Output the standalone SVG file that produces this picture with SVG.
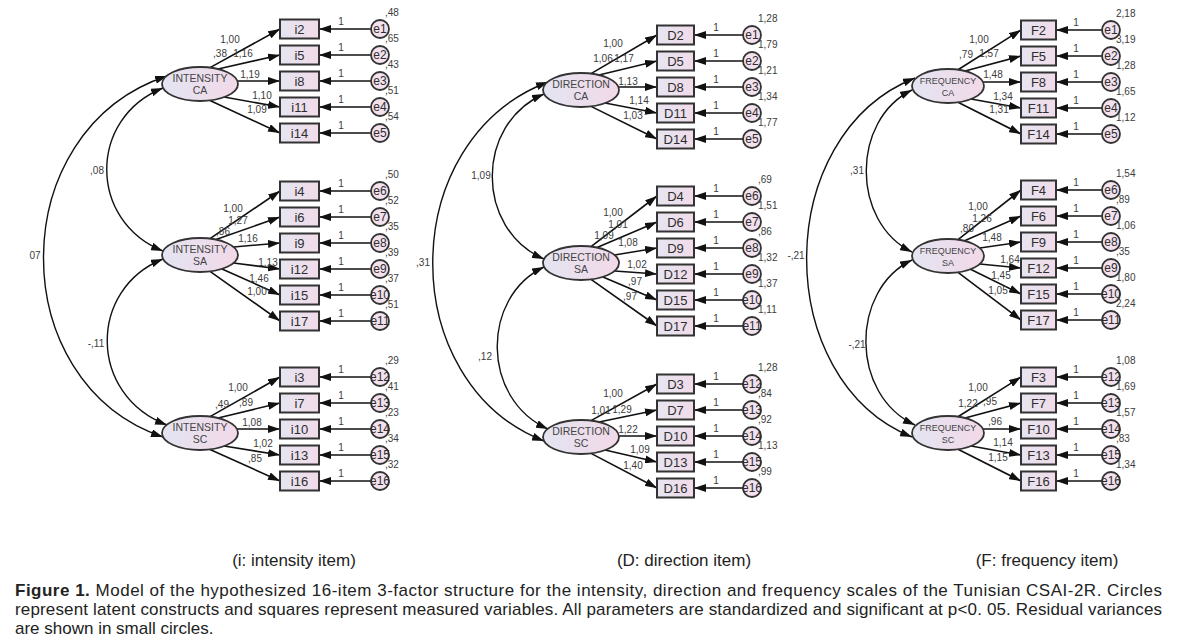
<svg xmlns="http://www.w3.org/2000/svg" width="1178" height="643" viewBox="0 0 1178 643">
<defs>
<linearGradient id="gBox" x1="0" y1="0" x2="1" y2="0"><stop offset="0" stop-color="#e6e5f1"/><stop offset="1" stop-color="#f1dbe9"/></linearGradient>
<linearGradient id="gLat" x1="0" y1="0" x2="1" y2="0"><stop offset="0" stop-color="#e4e4f1"/><stop offset="1" stop-color="#f2d9e8"/></linearGradient>
<marker id="ah" viewBox="0 0 12 8" refX="12" refY="4" markerWidth="12" markerHeight="8" markerUnits="userSpaceOnUse" orient="auto-start-reverse"><path d="M0,0 L12,4 L0,8 z" fill="#111"/></marker>
<style>
.box{fill:url(#gBox);stroke:#333;stroke-width:2}
.lat{fill:url(#gLat);stroke:#333;stroke-width:1.8}
.err{fill:#f3e2ee;stroke:#333;stroke-width:1.8}
.ln{stroke:#111;stroke-width:1.6;fill:none;marker-end:url(#ah)}
.cov{stroke:#111;stroke-width:1.4;fill:none;marker-start:url(#ah);marker-end:url(#ah)}
text{font-family:"Liberation Sans",Arial,sans-serif;fill:#2e2e2e}
.nm{font-size:13px;text-anchor:middle}
.en{font-size:12px;text-anchor:middle}
.lt{font-size:10.5px;text-anchor:middle;fill:#444}
.ltf{font-size:9px;text-anchor:middle;fill:#444}
.lb{font-size:10px;text-anchor:middle;fill:#3c3c3c}
.vr{font-size:10px;fill:#3c3c3c}
.cap{font-size:17px;fill:#222}
.capc{font-size:17px;fill:#222;text-anchor:middle}
</style>
</defs>
<rect width="1178" height="643" fill="#fff"/>

<g id="connectors">
<!-- Panel 1 covariances -->
<path class="cov" d="M167,76 C3,130 3,383 163,437"/>
<path class="cov" d="M163,88 C88,118 88,221 163,251"/>
<path class="cov" d="M163,259 C88,289 88,395 167,425"/>
<text class="lb" x="35" y="259">07</text>
<text class="lb" x="97" y="174">,08</text>
<text class="lb" x="96" y="347">-,11</text>
<!-- Panel 1 loadings -->
<path class="ln" d="M210,67.6 L280,29"/>
<path class="ln" d="M218,69 L280,55"/>
<path class="ln" d="M237.4,81 L280,81"/>
<path class="ln" d="M224,97 L280,107"/>
<path class="ln" d="M210,100.4 L280,133"/>
<path class="ln" d="M210,238.6 L280,191"/>
<path class="ln" d="M216,239.6 L280,217"/>
<path class="ln" d="M233.5,247 L280,243"/>
<path class="ln" d="M233.5,263 L280,269"/>
<path class="ln" d="M222,269 L280,295"/>
<path class="ln" d="M210,271.4 L280,321"/>
<path class="ln" d="M210,416.6 L280,377"/>
<path class="ln" d="M218,418 L280,403"/>
<path class="ln" d="M236.9,429 L280,429"/>
<path class="ln" d="M224,446 L280,455"/>
<path class="ln" d="M210,449.4 L280,481"/>
<text class="lb" x="230" y="42.5">1,00</text>
<text class="lb" x="220" y="56.5">,38</text>
<text class="lb" x="243" y="56.5">1,16</text>
<text class="lb" x="250" y="77.5">1,19</text>
<text class="lb" x="262" y="98.5">1,10</text>
<text class="lb" x="257" y="112.5">1,09</text>
<text class="lb" x="233" y="211.5">1,00</text>
<text class="lb" x="238" y="223.5">1,27</text>
<text class="lb" x="223" y="234.5">,86</text>
<text class="lb" x="248" y="241.5">1,16</text>
<text class="lb" x="268" y="265.5">1,13</text>
<text class="lb" x="259" y="281.5">1,46</text>
<text class="lb" x="257" y="294.5">1,00</text>
<text class="lb" x="238" y="390.5">1,00</text>
<text class="lb" x="222" y="407.5">,49</text>
<text class="lb" x="246" y="405.5">,89</text>
<text class="lb" x="252" y="425.5">1,08</text>
<text class="lb" x="263" y="446.5">1,02</text>
<text class="lb" x="255" y="461.5">,85</text>
<!-- Panel 1 error arrows -->
<path class="ln" d="M371,29 L319,29"/><path class="ln" d="M371,55 L319,55"/><path class="ln" d="M371,81 L319,81"/><path class="ln" d="M371,107 L319,107"/><path class="ln" d="M371,133 L319,133"/>
<path class="ln" d="M371,191 L319,191"/><path class="ln" d="M371,217 L319,217"/><path class="ln" d="M371,243 L319,243"/><path class="ln" d="M371,269 L319,269"/><path class="ln" d="M371,295 L319,295"/><path class="ln" d="M371,321 L319,321"/>
<path class="ln" d="M371,377 L319,377"/><path class="ln" d="M371,403 L319,403"/><path class="ln" d="M371,429 L319,429"/><path class="ln" d="M371,455 L319,455"/><path class="ln" d="M371,481 L319,481"/>
<text class="lb" x="341" y="25">1</text><text class="lb" x="341" y="51">1</text><text class="lb" x="341" y="77">1</text><text class="lb" x="341" y="103">1</text><text class="lb" x="341" y="129">1</text>
<text class="lb" x="341" y="187">1</text><text class="lb" x="341" y="213">1</text><text class="lb" x="341" y="239">1</text><text class="lb" x="341" y="265">1</text><text class="lb" x="341" y="291">1</text><text class="lb" x="341" y="317">1</text>
<text class="lb" x="341" y="373">1</text><text class="lb" x="341" y="399">1</text><text class="lb" x="341" y="425">1</text><text class="lb" x="341" y="451">1</text><text class="lb" x="341" y="477">1</text>

<!-- Panel 2 covariances -->
<path class="cov" d="M548,82 C395,140 395,383 544,441"/>
<path class="cov" d="M544,94 C475,124 475,229 544,259"/>
<path class="cov" d="M544,267 C481,297 481,399 548,429"/>
<text class="lb" x="423" y="265.5">,31</text>
<text class="lb" x="481" y="178.5">1,09</text>
<text class="lb" x="485" y="359.5">,12</text>
<!-- Panel 2 loadings -->
<path class="ln" d="M591,73.6 L657,35"/>
<path class="ln" d="M599,75 L657,61"/>
<path class="ln" d="M618.4,87 L657,87"/>
<path class="ln" d="M605,103 L657,113"/>
<path class="ln" d="M591,106.4 L657,139"/>
<path class="ln" d="M591,246.6 L657,196"/>
<path class="ln" d="M597,247.6 L657,222"/>
<path class="ln" d="M614.5,255 L657,248"/>
<path class="ln" d="M614.5,271 L657,274"/>
<path class="ln" d="M603,277 L657,300"/>
<path class="ln" d="M591,279.4 L657,326"/>
<path class="ln" d="M591,420.6 L657,384"/>
<path class="ln" d="M599,422 L657,410"/>
<path class="ln" d="M618.6,436 L657,436"/>
<path class="ln" d="M605,450 L657,462"/>
<path class="ln" d="M591,453.4 L657,488"/>
<text class="lb" x="613" y="46.5">1,00</text>
<text class="lb" x="603" y="61.5">1,06</text>
<text class="lb" x="624" y="61.5">1,17</text>
<text class="lb" x="628" y="84.5">1,13</text>
<text class="lb" x="639" y="103.5">1,14</text>
<text class="lb" x="633" y="118.5">1,03</text>
<text class="lb" x="613" y="215.5">1,00</text>
<text class="lb" x="618" y="227.5">1,01</text>
<text class="lb" x="604" y="238.5">1,09</text>
<text class="lb" x="628" y="245.5">1,08</text>
<text class="lb" x="637" y="267.5">1,02</text>
<text class="lb" x="635" y="284.5">,97</text>
<text class="lb" x="630" y="299.5">,97</text>
<text class="lb" x="613" y="396.5">1,00</text>
<text class="lb" x="601" y="413.5">1,01</text>
<text class="lb" x="622" y="412.5">1,29</text>
<text class="lb" x="628" y="432.5">1,22</text>
<text class="lb" x="640" y="452.5">1,09</text>
<text class="lb" x="633" y="468.5">1,40</text>
<!-- Panel 2 error arrows -->
<path class="ln" d="M743,35 L694,35"/><path class="ln" d="M743,61 L694,61"/><path class="ln" d="M743,87 L694,87"/><path class="ln" d="M743,113 L694,113"/><path class="ln" d="M743,139 L694,139"/>
<path class="ln" d="M743,196 L694,196"/><path class="ln" d="M743,222 L694,222"/><path class="ln" d="M743,248 L694,248"/><path class="ln" d="M743,274 L694,274"/><path class="ln" d="M743,300 L694,300"/><path class="ln" d="M743,326 L694,326"/>
<path class="ln" d="M743,384 L694,384"/><path class="ln" d="M743,410 L694,410"/><path class="ln" d="M743,436 L694,436"/><path class="ln" d="M743,462 L694,462"/><path class="ln" d="M743,488 L694,488"/>
<text class="lb" x="716" y="31">1</text><text class="lb" x="716" y="57">1</text><text class="lb" x="716" y="83">1</text><text class="lb" x="716" y="109">1</text><text class="lb" x="716" y="135">1</text>
<text class="lb" x="716" y="192">1</text><text class="lb" x="716" y="218">1</text><text class="lb" x="716" y="244">1</text><text class="lb" x="716" y="270">1</text><text class="lb" x="716" y="296">1</text><text class="lb" x="716" y="322">1</text>
<text class="lb" x="716" y="380">1</text><text class="lb" x="716" y="406">1</text><text class="lb" x="716" y="432">1</text><text class="lb" x="716" y="458">1</text><text class="lb" x="716" y="484">1</text>

<!-- Panel 3 covariances -->
<path class="cov" d="M915,78 C771,135 771,380 912,437"/>
<path class="cov" d="M912,90 C851,120 851,222 912,252"/>
<path class="cov" d="M912,260 C850,290 850,395 915,425"/>
<text class="lb" x="796" y="258.5">-,21</text>
<text class="lb" x="857" y="173.5">,31</text>
<text class="lb" x="857" y="347.5">-,21</text>
<!-- Panel 3 loadings -->
<path class="ln" d="M958,69.7 L1021,30"/>
<path class="ln" d="M965,71 L1021,56"/>
<path class="ln" d="M983,82 L1021,82"/>
<path class="ln" d="M971,99 L1021,108"/>
<path class="ln" d="M958,102.3 L1021,134"/>
<path class="ln" d="M958,239.7 L1021,190"/>
<path class="ln" d="M964,241 L1021,216"/>
<path class="ln" d="M979.8,248 L1021,242"/>
<path class="ln" d="M979.8,264 L1021,268"/>
<path class="ln" d="M970,269 L1021,294"/>
<path class="ln" d="M958,272.3 L1021,320"/>
<path class="ln" d="M958,416.7 L1021,377"/>
<path class="ln" d="M965,418 L1021,403"/>
<path class="ln" d="M983,429 L1021,429"/>
<path class="ln" d="M971,446 L1021,455"/>
<path class="ln" d="M958,449.3 L1021,481"/>
<text class="lb" x="979" y="42.5">1,00</text>
<text class="lb" x="966" y="57.5">,79</text>
<text class="lb" x="989" y="56.5">1,57</text>
<text class="lb" x="993" y="77.5">1,48</text>
<text class="lb" x="1003" y="99.5">1,34</text>
<text class="lb" x="999" y="112.5">1,31</text>
<text class="lb" x="978" y="209.5">1,00</text>
<text class="lb" x="982" y="221.5">1,26</text>
<text class="lb" x="967" y="232">,80</text>
<text class="lb" x="992" y="240.5">1,48</text>
<text class="lb" x="1010" y="262.5">1,64</text>
<text class="lb" x="1001" y="278.5">1,45</text>
<text class="lb" x="998" y="293.5">1,05</text>
<text class="lb" x="978" y="390.5">1,00</text>
<text class="lb" x="968" y="406.5">1,22</text>
<text class="lb" x="990" y="404.5">,95</text>
<text class="lb" x="995" y="424.5">,96</text>
<text class="lb" x="1003" y="445.5">1,14</text>
<text class="lb" x="998" y="460.5">1,15</text>
<!-- Panel 3 error arrows -->
<path class="ln" d="M1102,30 L1056,30"/><path class="ln" d="M1102,56 L1056,56"/><path class="ln" d="M1102,82 L1056,82"/><path class="ln" d="M1102,108 L1056,108"/><path class="ln" d="M1102,134 L1056,134"/>
<path class="ln" d="M1102,190 L1056,190"/><path class="ln" d="M1102,216 L1056,216"/><path class="ln" d="M1102,242 L1056,242"/><path class="ln" d="M1102,268 L1056,268"/><path class="ln" d="M1102,294 L1056,294"/><path class="ln" d="M1102,320 L1056,320"/>
<path class="ln" d="M1102,377 L1056,377"/><path class="ln" d="M1102,403 L1056,403"/><path class="ln" d="M1102,429 L1056,429"/><path class="ln" d="M1102,455 L1056,455"/><path class="ln" d="M1102,481 L1056,481"/>
<text class="lb" x="1076" y="26">1</text><text class="lb" x="1076" y="52">1</text><text class="lb" x="1076" y="78">1</text><text class="lb" x="1076" y="104">1</text><text class="lb" x="1076" y="130">1</text>
<text class="lb" x="1076" y="186">1</text><text class="lb" x="1076" y="212">1</text><text class="lb" x="1076" y="238">1</text><text class="lb" x="1076" y="264">1</text><text class="lb" x="1076" y="290">1</text><text class="lb" x="1076" y="316">1</text>
<text class="lb" x="1076" y="373">1</text><text class="lb" x="1076" y="399">1</text><text class="lb" x="1076" y="425">1</text><text class="lb" x="1076" y="451">1</text><text class="lb" x="1076" y="477">1</text>
</g>

<!-- ===== Panel 1 nodes ===== -->
<g id="int-ca"><ellipse class="lat" cx="200" cy="84" rx="38" ry="17"/><text class="lt" x="200" y="82">INTENSITY</text><text class="lt" x="200" y="94">CA</text></g>
<g id="int-sa"><ellipse class="lat" cx="200" cy="255" rx="38" ry="17"/><text class="lt" x="200" y="253">INTENSITY</text><text class="lt" x="200" y="265">SA</text></g>
<g id="int-sc"><ellipse class="lat" cx="200" cy="433" rx="38" ry="17"/><text class="lt" x="200" y="431">INTENSITY</text><text class="lt" x="200" y="443">SC</text></g>

<g id="i2"><rect class="box" x="280" y="19.5" width="39" height="19"/><text class="nm" x="299.5" y="33.5">i2</text></g>
<g id="i5"><rect class="box" x="280" y="45.5" width="39" height="19"/><text class="nm" x="299.5" y="59.5">i5</text></g>
<g id="i8"><rect class="box" x="280" y="71.5" width="39" height="19"/><text class="nm" x="299.5" y="85.5">i8</text></g>
<g id="i11"><rect class="box" x="280" y="97.5" width="39" height="19"/><text class="nm" x="299.5" y="111.5">i11</text></g>
<g id="i14"><rect class="box" x="280" y="123.5" width="39" height="19"/><text class="nm" x="299.5" y="137.5">i14</text></g>
<g id="i4"><rect class="box" x="280" y="181.5" width="39" height="19"/><text class="nm" x="299.5" y="195.5">i4</text></g>
<g id="i6"><rect class="box" x="280" y="207.5" width="39" height="19"/><text class="nm" x="299.5" y="221.5">i6</text></g>
<g id="i9"><rect class="box" x="280" y="233.5" width="39" height="19"/><text class="nm" x="299.5" y="247.5">i9</text></g>
<g id="i12"><rect class="box" x="280" y="259.5" width="39" height="19"/><text class="nm" x="299.5" y="273.5">i12</text></g>
<g id="i15"><rect class="box" x="280" y="285.5" width="39" height="19"/><text class="nm" x="299.5" y="299.5">i15</text></g>
<g id="i17"><rect class="box" x="280" y="311.5" width="39" height="19"/><text class="nm" x="299.5" y="325.5">i17</text></g>
<g id="i3"><rect class="box" x="280" y="367.5" width="39" height="19"/><text class="nm" x="299.5" y="381.5">i3</text></g>
<g id="i7"><rect class="box" x="280" y="393.5" width="39" height="19"/><text class="nm" x="299.5" y="407.5">i7</text></g>
<g id="i10"><rect class="box" x="280" y="419.5" width="39" height="19"/><text class="nm" x="299.5" y="433.5">i10</text></g>
<g id="i13"><rect class="box" x="280" y="445.5" width="39" height="19"/><text class="nm" x="299.5" y="459.5">i13</text></g>
<g id="i16"><rect class="box" x="280" y="471.5" width="39" height="19"/><text class="nm" x="299.5" y="485.5">i16</text></g>

<g id="p1-e1"><circle class="err" cx="380" cy="29" r="9"/><text class="en" x="380" y="33">e1</text><text class="vr" x="385" y="16">,48</text></g>
<g id="p1-e2"><circle class="err" cx="380" cy="55" r="9"/><text class="en" x="380" y="59">e2</text><text class="vr" x="385" y="42">,65</text></g>
<g id="p1-e3"><circle class="err" cx="380" cy="81" r="9"/><text class="en" x="380" y="85">e3</text><text class="vr" x="385" y="68">,43</text></g>
<g id="p1-e4"><circle class="err" cx="380" cy="107" r="9"/><text class="en" x="380" y="111">e4</text><text class="vr" x="385" y="94">,51</text></g>
<g id="p1-e5"><circle class="err" cx="380" cy="133" r="9"/><text class="en" x="380" y="137">e5</text><text class="vr" x="385" y="120">,54</text></g>
<g id="p1-e6"><circle class="err" cx="380" cy="191" r="9"/><text class="en" x="380" y="195">e6</text><text class="vr" x="385" y="178">,50</text></g>
<g id="p1-e7"><circle class="err" cx="380" cy="217" r="9"/><text class="en" x="380" y="221">e7</text><text class="vr" x="385" y="204">,52</text></g>
<g id="p1-e8"><circle class="err" cx="380" cy="243" r="9"/><text class="en" x="380" y="247">e8</text><text class="vr" x="385" y="230">,35</text></g>
<g id="p1-e9"><circle class="err" cx="380" cy="269" r="9"/><text class="en" x="380" y="273">e9</text><text class="vr" x="385" y="256">,39</text></g>
<g id="p1-e10"><circle class="err" cx="380" cy="295" r="9"/><text class="en" x="380" y="299">e10</text><text class="vr" x="385" y="282">,37</text></g>
<g id="p1-e11"><circle class="err" cx="380" cy="321" r="9"/><text class="en" x="380" y="325">e11</text><text class="vr" x="385" y="308">,51</text></g>
<g id="p1-e12"><circle class="err" cx="380" cy="377" r="9"/><text class="en" x="380" y="381">e12</text><text class="vr" x="385" y="364">,29</text></g>
<g id="p1-e13"><circle class="err" cx="380" cy="403" r="9"/><text class="en" x="380" y="407">e13</text><text class="vr" x="385" y="390">,41</text></g>
<g id="p1-e14"><circle class="err" cx="380" cy="429" r="9"/><text class="en" x="380" y="433">e14</text><text class="vr" x="385" y="416">,23</text></g>
<g id="p1-e15"><circle class="err" cx="380" cy="455" r="9"/><text class="en" x="380" y="459">e15</text><text class="vr" x="385" y="442">,34</text></g>
<g id="p1-e16"><circle class="err" cx="380" cy="481" r="9"/><text class="en" x="380" y="485">e16</text><text class="vr" x="385" y="468">,32</text></g>

<!-- ===== Panel 2 nodes ===== -->
<g id="dir-ca"><ellipse class="lat" cx="581" cy="90" rx="38" ry="17"/><text class="lt" x="581" y="88">DIRECTION</text><text class="lt" x="581" y="100">CA</text></g>
<g id="dir-sa"><ellipse class="lat" cx="581" cy="263" rx="38" ry="17"/><text class="lt" x="581" y="261">DIRECTION</text><text class="lt" x="581" y="273">SA</text></g>
<g id="dir-sc"><ellipse class="lat" cx="581" cy="437" rx="38" ry="17"/><text class="lt" x="581" y="435">DIRECTION</text><text class="lt" x="581" y="447">SC</text></g>

<g id="D2"><rect class="box" x="657" y="25.5" width="37" height="19"/><text class="nm" x="675.5" y="39.5">D2</text></g>
<g id="D5"><rect class="box" x="657" y="51.5" width="37" height="19"/><text class="nm" x="675.5" y="65.5">D5</text></g>
<g id="D8"><rect class="box" x="657" y="77.5" width="37" height="19"/><text class="nm" x="675.5" y="91.5">D8</text></g>
<g id="D11"><rect class="box" x="657" y="103.5" width="37" height="19"/><text class="nm" x="675.5" y="117.5">D11</text></g>
<g id="D14"><rect class="box" x="657" y="129.5" width="37" height="19"/><text class="nm" x="675.5" y="143.5">D14</text></g>
<g id="D4"><rect class="box" x="657" y="186.5" width="37" height="19"/><text class="nm" x="675.5" y="200.5">D4</text></g>
<g id="D6"><rect class="box" x="657" y="212.5" width="37" height="19"/><text class="nm" x="675.5" y="226.5">D6</text></g>
<g id="D9"><rect class="box" x="657" y="238.5" width="37" height="19"/><text class="nm" x="675.5" y="252.5">D9</text></g>
<g id="D12"><rect class="box" x="657" y="264.5" width="37" height="19"/><text class="nm" x="675.5" y="278.5">D12</text></g>
<g id="D15"><rect class="box" x="657" y="290.5" width="37" height="19"/><text class="nm" x="675.5" y="304.5">D15</text></g>
<g id="D17"><rect class="box" x="657" y="316.5" width="37" height="19"/><text class="nm" x="675.5" y="330.5">D17</text></g>
<g id="D3"><rect class="box" x="657" y="374.5" width="37" height="19"/><text class="nm" x="675.5" y="388.5">D3</text></g>
<g id="D7"><rect class="box" x="657" y="400.5" width="37" height="19"/><text class="nm" x="675.5" y="414.5">D7</text></g>
<g id="D10"><rect class="box" x="657" y="426.5" width="37" height="19"/><text class="nm" x="675.5" y="440.5">D10</text></g>
<g id="D13"><rect class="box" x="657" y="452.5" width="37" height="19"/><text class="nm" x="675.5" y="466.5">D13</text></g>
<g id="D16"><rect class="box" x="657" y="478.5" width="37" height="19"/><text class="nm" x="675.5" y="492.5">D16</text></g>

<g id="p2-e1"><circle class="err" cx="752" cy="35" r="9"/><text class="en" x="752" y="39">e1</text><text class="vr" x="758" y="22">1,28</text></g>
<g id="p2-e2"><circle class="err" cx="752" cy="61" r="9"/><text class="en" x="752" y="65">e2</text><text class="vr" x="758" y="48">1,79</text></g>
<g id="p2-e3"><circle class="err" cx="752" cy="87" r="9"/><text class="en" x="752" y="91">e3</text><text class="vr" x="758" y="74">1,21</text></g>
<g id="p2-e4"><circle class="err" cx="752" cy="113" r="9"/><text class="en" x="752" y="117">e4</text><text class="vr" x="758" y="100">1,34</text></g>
<g id="p2-e5"><circle class="err" cx="752" cy="139" r="9"/><text class="en" x="752" y="143">e5</text><text class="vr" x="758" y="126">1,77</text></g>
<g id="p2-e6"><circle class="err" cx="752" cy="196" r="9"/><text class="en" x="752" y="200">e6</text><text class="vr" x="758" y="183">,69</text></g>
<g id="p2-e7"><circle class="err" cx="752" cy="222" r="9"/><text class="en" x="752" y="226">e7</text><text class="vr" x="758" y="209">1,51</text></g>
<g id="p2-e8"><circle class="err" cx="752" cy="248" r="9"/><text class="en" x="752" y="252">e8</text><text class="vr" x="758" y="235">,86</text></g>
<g id="p2-e9"><circle class="err" cx="752" cy="274" r="9"/><text class="en" x="752" y="278">e9</text><text class="vr" x="758" y="261">1,32</text></g>
<g id="p2-e10"><circle class="err" cx="752" cy="300" r="9"/><text class="en" x="752" y="304">e10</text><text class="vr" x="758" y="287">1,37</text></g>
<g id="p2-e11"><circle class="err" cx="752" cy="326" r="9"/><text class="en" x="752" y="330">e11</text><text class="vr" x="758" y="313">1,11</text></g>
<g id="p2-e12"><circle class="err" cx="752" cy="384" r="9"/><text class="en" x="752" y="388">e12</text><text class="vr" x="758" y="371">1,28</text></g>
<g id="p2-e13"><circle class="err" cx="752" cy="410" r="9"/><text class="en" x="752" y="414">e13</text><text class="vr" x="758" y="397">,84</text></g>
<g id="p2-e14"><circle class="err" cx="752" cy="436" r="9"/><text class="en" x="752" y="440">e14</text><text class="vr" x="758" y="423">,92</text></g>
<g id="p2-e15"><circle class="err" cx="752" cy="462" r="9"/><text class="en" x="752" y="466">e15</text><text class="vr" x="758" y="449">1,13</text></g>
<g id="p2-e16"><circle class="err" cx="752" cy="488" r="9"/><text class="en" x="752" y="492">e16</text><text class="vr" x="758" y="475">,99</text></g>

<!-- ===== Panel 3 nodes ===== -->
<g id="freq-ca"><ellipse class="lat" cx="948" cy="86" rx="36" ry="17"/><text class="ltf" x="948" y="84">FREQUENCY</text><text class="ltf" x="948" y="96">CA</text></g>
<g id="freq-sa"><ellipse class="lat" cx="948" cy="256" rx="36" ry="17"/><text class="ltf" x="948" y="254">FREQUENCY</text><text class="ltf" x="948" y="266">SA</text></g>
<g id="freq-sc"><ellipse class="lat" cx="948" cy="433" rx="36" ry="17"/><text class="ltf" x="948" y="431">FREQUENCY</text><text class="ltf" x="948" y="443">SC</text></g>

<g id="F2"><rect class="box" x="1021" y="20.5" width="35" height="19"/><text class="nm" x="1038.5" y="34.5">F2</text></g>
<g id="F5"><rect class="box" x="1021" y="46.5" width="35" height="19"/><text class="nm" x="1038.5" y="60.5">F5</text></g>
<g id="F8"><rect class="box" x="1021" y="72.5" width="35" height="19"/><text class="nm" x="1038.5" y="86.5">F8</text></g>
<g id="F11"><rect class="box" x="1021" y="98.5" width="35" height="19"/><text class="nm" x="1038.5" y="112.5">F11</text></g>
<g id="F14"><rect class="box" x="1021" y="124.5" width="35" height="19"/><text class="nm" x="1038.5" y="138.5">F14</text></g>
<g id="F4"><rect class="box" x="1021" y="180.5" width="35" height="19"/><text class="nm" x="1038.5" y="194.5">F4</text></g>
<g id="F6"><rect class="box" x="1021" y="206.5" width="35" height="19"/><text class="nm" x="1038.5" y="220.5">F6</text></g>
<g id="F9"><rect class="box" x="1021" y="232.5" width="35" height="19"/><text class="nm" x="1038.5" y="246.5">F9</text></g>
<g id="F12"><rect class="box" x="1021" y="258.5" width="35" height="19"/><text class="nm" x="1038.5" y="272.5">F12</text></g>
<g id="F15"><rect class="box" x="1021" y="284.5" width="35" height="19"/><text class="nm" x="1038.5" y="298.5">F15</text></g>
<g id="F17"><rect class="box" x="1021" y="310.5" width="35" height="19"/><text class="nm" x="1038.5" y="324.5">F17</text></g>
<g id="F3"><rect class="box" x="1021" y="367.5" width="35" height="19"/><text class="nm" x="1038.5" y="381.5">F3</text></g>
<g id="F7"><rect class="box" x="1021" y="393.5" width="35" height="19"/><text class="nm" x="1038.5" y="407.5">F7</text></g>
<g id="F10"><rect class="box" x="1021" y="419.5" width="35" height="19"/><text class="nm" x="1038.5" y="433.5">F10</text></g>
<g id="F13"><rect class="box" x="1021" y="445.5" width="35" height="19"/><text class="nm" x="1038.5" y="459.5">F13</text></g>
<g id="F16"><rect class="box" x="1021" y="471.5" width="35" height="19"/><text class="nm" x="1038.5" y="485.5">F16</text></g>

<g id="p3-e1"><circle class="err" cx="1111" cy="30" r="9"/><text class="en" x="1111" y="34">e1</text><text class="vr" x="1116" y="17">2,18</text></g>
<g id="p3-e2"><circle class="err" cx="1111" cy="56" r="9"/><text class="en" x="1111" y="60">e2</text><text class="vr" x="1116" y="43">3,19</text></g>
<g id="p3-e3"><circle class="err" cx="1111" cy="82" r="9"/><text class="en" x="1111" y="86">e3</text><text class="vr" x="1116" y="69">1,28</text></g>
<g id="p3-e4"><circle class="err" cx="1111" cy="108" r="9"/><text class="en" x="1111" y="112">e4</text><text class="vr" x="1116" y="95">1,65</text></g>
<g id="p3-e5"><circle class="err" cx="1111" cy="134" r="9"/><text class="en" x="1111" y="138">e5</text><text class="vr" x="1116" y="121">1,12</text></g>
<g id="p3-e6"><circle class="err" cx="1111" cy="190" r="9"/><text class="en" x="1111" y="194">e6</text><text class="vr" x="1116" y="177">1,54</text></g>
<g id="p3-e7"><circle class="err" cx="1111" cy="216" r="9"/><text class="en" x="1111" y="220">e7</text><text class="vr" x="1116" y="203">,89</text></g>
<g id="p3-e8"><circle class="err" cx="1111" cy="242" r="9"/><text class="en" x="1111" y="246">e8</text><text class="vr" x="1116" y="229">1,06</text></g>
<g id="p3-e9"><circle class="err" cx="1111" cy="268" r="9"/><text class="en" x="1111" y="272">e9</text><text class="vr" x="1116" y="255">,35</text></g>
<g id="p3-e10"><circle class="err" cx="1111" cy="294" r="9"/><text class="en" x="1111" y="298">e10</text><text class="vr" x="1116" y="281">1,80</text></g>
<g id="p3-e11"><circle class="err" cx="1111" cy="320" r="9"/><text class="en" x="1111" y="324">e11</text><text class="vr" x="1116" y="307">2,24</text></g>
<g id="p3-e12"><circle class="err" cx="1111" cy="377" r="9"/><text class="en" x="1111" y="381">e12</text><text class="vr" x="1116" y="364">1,08</text></g>
<g id="p3-e13"><circle class="err" cx="1111" cy="403" r="9"/><text class="en" x="1111" y="407">e13</text><text class="vr" x="1116" y="390">1,69</text></g>
<g id="p3-e14"><circle class="err" cx="1111" cy="429" r="9"/><text class="en" x="1111" y="433">e14</text><text class="vr" x="1116" y="416">1,57</text></g>
<g id="p3-e15"><circle class="err" cx="1111" cy="455" r="9"/><text class="en" x="1111" y="459">e15</text><text class="vr" x="1116" y="442">,83</text></g>
<g id="p3-e16"><circle class="err" cx="1111" cy="481" r="9"/><text class="en" x="1111" y="485">e16</text><text class="vr" x="1116" y="468">1,34</text></g>

<!-- Captions -->
<g id="captions">
<text class="capc" x="294" y="566">(i: intensity item)</text>
<text class="capc" x="684" y="566">(D: direction item)</text>
<text class="capc" x="1047" y="566">(F: frequency item)</text>
<text class="cap" x="15" y="596" textLength="1147" lengthAdjust="spacing"><tspan font-weight="bold">Figure 1.</tspan> Model of the hypothesized 16-item 3-factor structure for the intensity, direction and frequency scales of the Tunisian CSAI-2R. Circles</text>
<text class="cap" x="15" y="615" textLength="1147" lengthAdjust="spacing">represent latent constructs and squares represent measured variables. All parameters are standardized and significant at p&lt;0. 05. Residual variances</text>
<text class="cap" x="15" y="634">are shown in small circles.</text>
</g>
</svg>
